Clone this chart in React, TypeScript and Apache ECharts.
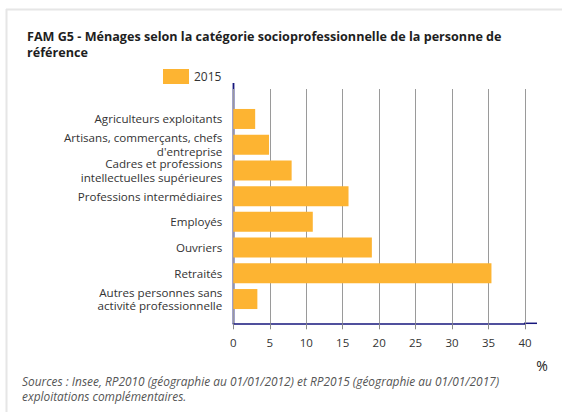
import React, { useEffect, useRef } from "react";
import * as echarts from "echarts";

const titleText = "FAM G5 - Ménages selon la catégorie socioprofessionnelle de la personne de\nréférence";
const seriesName = "2015";
const categories = [
  "Agriculteurs exploitants",
  "Artisans, commerçants, chefs\nd'entreprise",
  "Cadres et professions\nintellectuelles supérieures",
  "Professions intermédiaires",
  "Employés",
  "Ouvriers",
  "Retraités",
  "Autres personnes sans\nactivité professionnelle",
];
const values = [3.0, 4.9, 8.0, 15.8, 10.9, 19.0, 35.4, 3.3];
const xMin = 0;
const xMax = 40;
const xInterval = 5;
const unitLabel = "%";
const sourceText =
  "Sources : Insee, RP2010 (géographie au 01/01/2012) et RP2015 (géographie au 01/01/2017)\nexploitations complémentaires.";

const FONT = "'Open Sans', 'Noto Sans', sans-serif";
const BAR = "#FDB432";
const NAVY = "#16167c";

export default function App() {
  const ref = useRef<HTMLDivElement>(null);
  useEffect(() => {
    document.body.style.margin = "0";
    const chart = echarts.init(ref.current!, null, { renderer: "svg" });
    const left = 233.3;
    const right = 562 - 525;
    chart.setOption({
      animation: false,
      backgroundColor: "#ffffff",
      textStyle: { fontFamily: FONT },
      title: {
        text: titleText,
        left: 22,
        top: 23.5,
        textStyle: {
          fontFamily: FONT,
          fontSize: 12.6,
          fontWeight: "bold",
          color: "#1e1e1e",
          lineHeight: 16,
        },
      },
      legend: {
        data: [seriesName],
        left: 158,
        top: 64,
        itemWidth: 26,
        itemHeight: 15,
        itemGap: 6,
        icon: "rect",
        textStyle: { fontFamily: FONT, fontSize: 12, color: "#333" },
      },
      grid: [
        { left, right, top: 89, bottom: 412 - 323.3 },
        { left, right, top: 106.1, bottom: 412 - 311.9 },
      ],
      xAxis: [
        {
          gridIndex: 0,
          type: "value",
          min: xMin,
          max: xMax,
          interval: xInterval,
          axisLine: { show: true, lineStyle: { color: NAVY, width: 1.5 } },
          axisTick: { show: true, length: 6, lineStyle: { color: "#8a8a8a" } },
          axisLabel: { fontFamily: FONT, fontSize: 11.5, color: "#333", margin: 13 },
          splitLine: { show: true, lineStyle: { color: "#9a9a9a", width: 1 } },
        },
        {
          gridIndex: 1,
          type: "value",
          min: xMin,
          max: xMax,
          show: false,
        },
      ],
      yAxis: [
        {
          gridIndex: 0,
          type: "value",
          min: 0,
          max: 1,
          show: false,
        },
        {
          gridIndex: 1,
          type: "category",
          inverse: true,
          data: categories,
          axisLine: { show: false },
          axisTick: { show: false },
          splitLine: { show: false },
          axisLabel: {
            fontFamily: FONT,
            fontSize: 11.6,
            color: "#333",
            margin: 11,
            lineHeight: 13.5,
            align: "right",
          },
        },
      ],
      series: [
        {
          name: seriesName,
          type: "bar",
          xAxisIndex: 1,
          yAxisIndex: 1,
          data: values,
          barWidth: 20,
          itemStyle: { color: BAR },
        },
      ],
      graphic: [
        {
          type: "line",
          shape: { x1: 6, y1: 9.5, x2: 562, y2: 9.5 },
          style: { stroke: "#e6e6e6", lineWidth: 2 },
          silent: true,
        },
        {
          type: "line",
          shape: { x1: 6.5, y1: 9, x2: 6.5, y2: 412 },
          style: { stroke: "#e6e6e6", lineWidth: 2 },
          silent: true,
        },
        {
          type: "line",
          shape: { x1: 233.5, y1: 83, x2: 233.5, y2: 324 },
          style: { stroke: NAVY, lineWidth: 1.8 },
          silent: true,
        },
        {
          type: "line",
          shape: { x1: 524, y1: 323.3, x2: 537, y2: 323.3 },
          style: { stroke: NAVY, lineWidth: 1.5 },
          silent: true,
        },
        {
          type: "text",
          x: 542,
          y: 365,
          style: {
            text: unitLabel,
            fontFamily: FONT,
            fontSize: 14,
            fill: "#222",
            align: "center",
            verticalAlign: "middle",
          },
        },
        {
          type: "text",
          x: 22,
          y: 373,
          style: {
            text: sourceText,
            fontFamily: FONT,
            fontSize: 11.9,
            fontStyle: "italic",
            lineHeight: 15.5,
            fill: "#555",
            align: "left",
            verticalAlign: "top",
          },
        },
      ],
    });
    return () => chart.dispose();
  }, []);
  return <div ref={ref} style={{ width: 562, height: 412 }} />;
}
